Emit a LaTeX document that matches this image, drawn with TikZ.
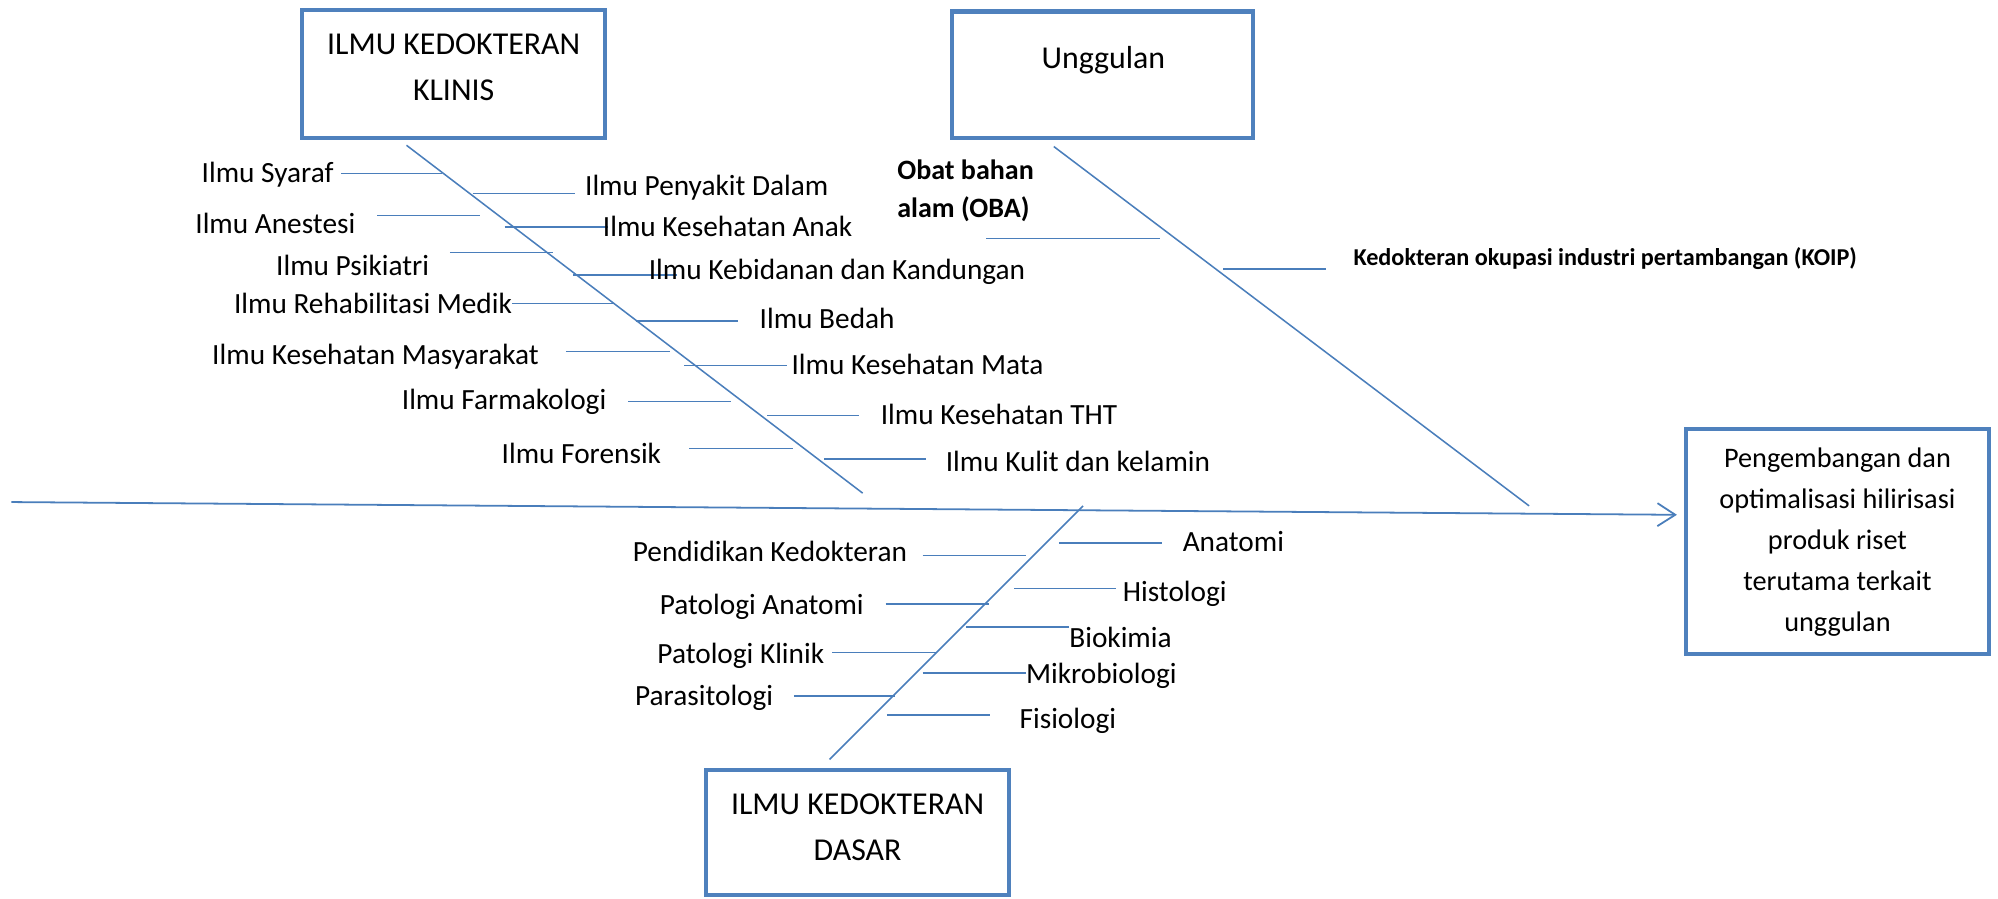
\documentclass[tikz,border=0pt]{standalone}
\usepackage{fontspec}
\setmainfont{Carlito}
\usetikzlibrary{arrows.meta}
\definecolor{boxblue}{HTML}{4F81BD}
\definecolor{boneblue}{HTML}{4A7EBB}
\begin{document}
\begin{tikzpicture}[x=1pt,y=-1pt,
  fbox/.style={draw=boxblue, line width=3.2pt, inner sep=0pt},
  ftext/.style={align=center, inner sep=0pt, font=\fontsize{25}{36}\selectfont},
  bone/.style={draw=boneblue, line width=1.2pt},
  lab/.style={inner sep=0pt, font=\fontsize{23}{28}\selectfont},
  labl/.style={lab, anchor=east},
  labr/.style={lab, anchor=west},
]
\useasboundingbox (0,0) rectangle (1568,705);

% boxes
\node[fbox, minimum width=238, minimum height=100] (klinis) at (356,58) {};
\node[ftext] (klinisT) at (356,53) {ILMU KEDOKTERAN\\KLINIS};
\node[fbox, minimum width=236, minimum height=99] (ung) at (865,58.5) {};
\node[ftext] (ungT) at (866,47) {Unggulan};
\node[fbox, minimum width=238, minimum height=98] (dasar) at (673,653.5) {};
\node[ftext] (dasarT) at (673,649.5) {ILMU KEDOKTERAN\\DASAR};
\node[fbox, minimum width=238, minimum height=176] (res) at (1442,425) {};
\node[ftext, font=\fontsize{22.2}{32.25}\selectfont] (resT) at (1442,425.5)
  {Pengembangan dan\\optimalisasi hilirisasi\\produk riset\\terutama terkait\\unggulan};

% spine
\coordinate (sp0) at (9,394);
\coordinate (sp1) at (1316,404);
\draw[bone, line width=1.4pt, -{Straight Barb[length=14pt,width=18pt]}] (sp0) -- (sp1);

% diagonals
\draw[bone] (319,114) -- (677,387);
\draw[bone] (827,115) -- (1200,397);
\draw[bone] (850,397) -- (651,596);

% klinis left
\draw[bone] (268,136) -- (347,136);
\draw[bone] (296,169) -- (377,169);
\draw[bone] (353,198) -- (434,198);
\draw[bone] (402,238) -- (483,238);
\draw[bone] (444,276) -- (526,276);
\draw[bone] (493,315) -- (574,315);
\draw[bone] (541,352) -- (622,352);
% klinis right
\draw[bone] (371,152) -- (451,152);
\draw[bone] (396,178) -- (477,178);
\draw[bone] (450,216) -- (531,216);
\draw[bone] (499,252) -- (579,252);
\draw[bone] (537,287) -- (618,287);
\draw[bone] (602,326) -- (674,326);
\draw[bone] (647,360) -- (727,360);
% unggulan
\draw[bone] (774,187) -- (910,187);
\draw[bone] (960,211) -- (1041,211);
% dasar left
\draw[bone] (724,436) -- (805,436);
\draw[bone] (695,474) -- (776,474);
\draw[bone] (653,512) -- (735,512);
\draw[bone] (623,546) -- (702,546);
% dasar right
\draw[bone] (831,426) -- (912,426);
\draw[bone] (796,462) -- (876,462);
\draw[bone] (758,492) -- (839,492);
\draw[bone] (724,528) -- (805,528);
\draw[bone] (696,561) -- (777,561);

% labels klinis left
\node[labl] (l1) at (262,137) {Ilmu Syaraf};
\node[labl] (l2) at (279,175) {Ilmu Anestesi};
\node[labl] (l3) at (337,208) {Ilmu Psikiatri};
\node[labl] (l4) at (402,238) {Ilmu Rehabilitasi Medik};
\node[labl] (l5) at (423,280) {Ilmu Kesehatan Masyarakat};
\node[labl] (l6) at (476,315) {Ilmu Farmakologi};
\node[labl] (l7) at (519,356) {Ilmu Forensik};
% labels klinis right
\node[labr] (r1) at (459,147) {Ilmu Penyakit Dalam};
\node[labr] (r2) at (473,178) {Ilmu Kesehatan Anak};
\node[labr] (r3) at (509,213) {Ilmu Kebidanan dan Kandungan};
\node[labr] (r4) at (596,250) {Ilmu Bedah};
\node[labr] (r5) at (621,286) {Ilmu Kesehatan Mata};
\node[labr] (r6) at (691,325) {Ilmu Kesehatan THT};
\node[labr] (r7) at (742,362) {Ilmu Kulit dan kelamin};
% unggulan labels
\node[inner sep=0pt, anchor=west, align=left, font=\bfseries\fontsize{22}{30}\selectfont] (oba) at (704,150) {Obat bahan\\alam (OBA)};
\node[inner sep=0pt, anchor=west, font=\bfseries\fontsize{19}{22}\selectfont] (koip) at (1062,203) {Kedokteran okupasi industri pertambangan (KOIP)};
% dasar left
\node[labl] (d1) at (712,433) {Pendidikan Kedokteran};
\node[labl] (d2) at (678,476) {Patologi Anatomi};
\node[labl] (d3) at (647,515) {Patologi Klinik};
\node[labl] (d4) at (607,548) {Parasitologi};
% dasar right
\node[labr] (e1) at (928,425) {Anatomi};
\node[labr] (e2) at (881,466) {Histologi};
\node[labr] (e3) at (839,500) {Biokimia};
\node[labr] (e4) at (805,530) {Mikrobiologi};
\node[labr] (e5) at (800,566) {Fisiologi};
\end{tikzpicture}
\end{document}
